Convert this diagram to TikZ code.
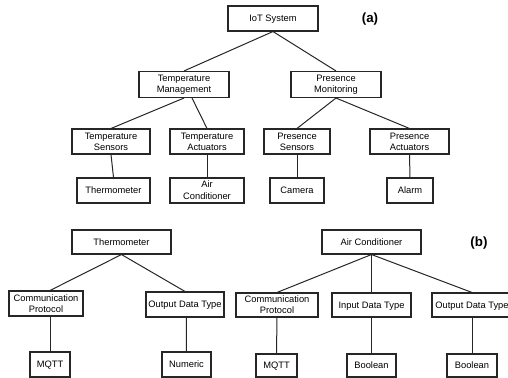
\documentclass[tikz,border=0pt]{standalone}
\usepackage{fontspec}
\setmainfont{Liberation Sans}
\begin{document}
\begin{tikzpicture}[x=0.75pt,y=-0.75pt,
  box/.style 2 args={draw=black!85, line width=0.8pt, rectangle, inner sep=0pt,
    align=center, font=\fontsize{7}{8.1}\selectfont,
    minimum width=#1*0.75pt, minimum height=#2*0.75pt},
  link/.style={draw=black!85, line width=0.75pt},
  tag/.style={font=\fontsize{10}{12}\selectfont\bfseries}]
\useasboundingbox (0,0) rectangle (508,378);

% (a) device hierarchy
\node[box={90}{25}, text depth=0pt] (iot) at (273,18.5) {IoT System};
\node[tag] (la) at (370,19) {(a)};
\node[box={90}{26}] (tm) at (184,84.5) {Temperature\\Management};
\node[box={90}{26}] (pm) at (336,84.5) {Presence\\Monitoring};
\node[box={78}{25}] (ts) at (111,141.5) {Temperature\\Sensors};
\node[box={74}{25}] (ta) at (207,141.5) {Temperature\\Actuators};
\node[box={66}{25}] (ps) at (297,141.5) {Presence\\Sensors};
\node[box={79}{25}] (pa) at (409.5,141.5) {Presence\\Actuators};
\node[box={73}{25}, text depth=0pt] (th) at (113.5,190.5) {Thermometer};
\node[box={74}{25}, font=\fontsize{7}{9}\selectfont] (ac) at (207,190.5) {Air\\Conditioner};
\node[box={54}{25}, text depth=0pt] (cam) at (297,190.5) {Camera};
\node[box={46}{25}, text depth=0pt] (alm) at (410,190.5) {Alarm};

\draw[link] (iot.south) -- (tm.north);
\draw[link] (iot.south) -- (pm.north);
\draw[link] (tm.south) -- (ts.north);
\draw[link] ([xshift=6pt]tm.south) -- (ta.north);
\draw[link] (pm.south) -- (ps.north);
\draw[link] (pm.south) -- (pa.north);
\draw[link] (ts.south) -- (th.north);
\draw[link] (ta.south) -- (ac.north);
\draw[link] (ps.south) -- (cam.north);
\draw[link] (pa.south) -- (alm.north);

% (b) device properties
\node[box={99}{24}, text depth=0pt] (th2) at (121.5,242) {Thermometer};
\node[box={99}{24}, text depth=0pt] (ac2) at (371.5,242) {Air Conditioner};
\node[tag] (lb) at (479,243) {(b)};
\node[box={74}{25}] (cp1) at (46,303.5) {Communication\\Protocol};
\node[box={78}{25}, text depth=0pt] (od1) at (185,304.5) {Output Data Type};
\node[box={82}{24}] (cp2) at (277,305) {Communication\\Protocol};
\node[box={79}{24}, text depth=0pt] (id) at (371.5,305) {Input Data Type};
\node[box={80}{24}, text depth=0pt] (od2) at (472,305) {Output Data Type};
\node[box={40}{25}, text depth=0pt] (mq1) at (50,364.5) {MQTT};
\node[box={49}{25}, text depth=0pt] (num) at (186.5,364.5) {Numeric};
\node[box={41}{23}, text depth=0pt] (mq2) at (276.5,365.5) {MQTT};
\node[box={49}{23}, text depth=0pt] (bo1) at (371.5,365.5) {Boolean};
\node[box={50}{23}, text depth=0pt] (bo2) at (472,365.5) {Boolean};

\draw[link] (th2.south) -- ([xshift=3pt]cp1.north);
\draw[link] (th2.south) -- (od1.north);
\draw[link] ([xshift=3pt]cp1.south) -- (mq1.north);
\draw[link] ([xshift=1pt]od1.south) -- (num.north);
\draw[link] (ac2.south) -- (cp2.north);
\draw[link] (ac2.south) -- (id.north);
\draw[link] (ac2.south) -- (od2.north);
\draw[link] (cp2.south) -- (mq2.north);
\draw[link] (id.south) -- (bo1.north);
\draw[link] (od2.south) -- (bo2.north);
\end{tikzpicture}
\end{document}
